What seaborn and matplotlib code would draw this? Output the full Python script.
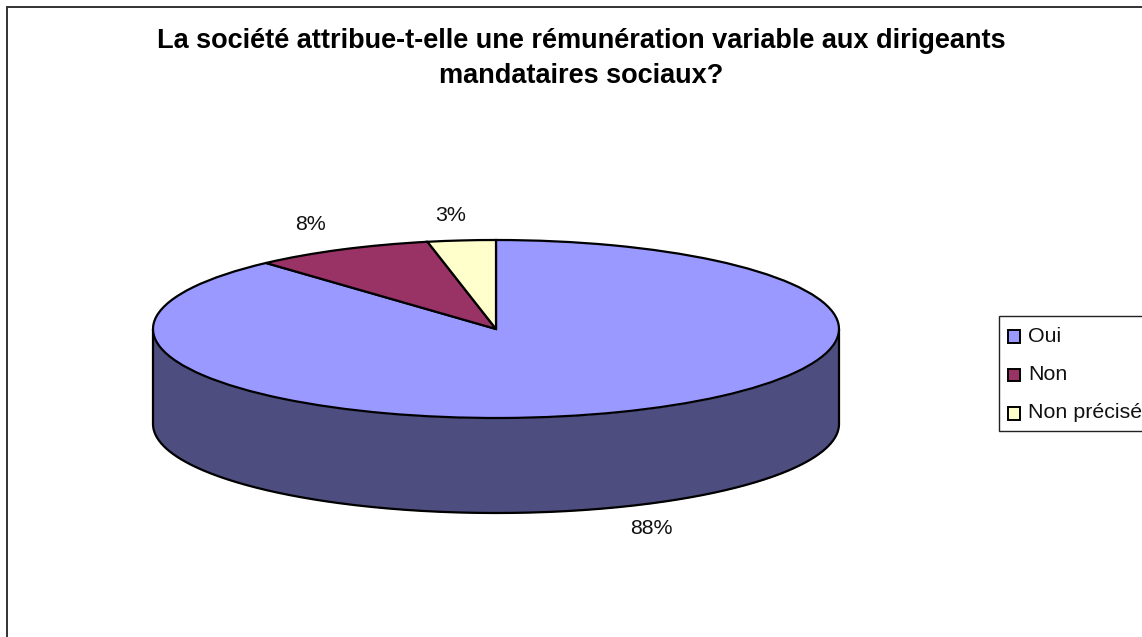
import numpy as np
import seaborn as sns
import matplotlib.pyplot as plt
from matplotlib.patches import Rectangle

# data
categories = ['Oui', 'Non', 'Non précisé']
values = [88.3, 8.5, 3.2]
pct_labels = ['88%', '8%', '3%']
top_colors = ['#9999FF', '#993366', '#FFFFCC']
side_color = '#4D4D80'
title = "La société attribue-t-elle une rémunération variable aux dirigeants\nmandataires sociaux?"

W, H = 1142, 637

sns.set_theme(style="white")
plt.rcParams['font.family'] = ['Liberation Sans', 'DejaVu Sans']

fig = plt.figure(figsize=(W / 100, H / 100), dpi=100)

# pie lives in its own axes, squashed so the circle becomes the ellipse
rx, ry = 343, 89
depth = 95
cx, cy = 496, 329
ax = fig.add_axes([(cx - rx) / W, 1 - (cy + ry + depth) / H, 2 * rx / W, (2 * ry + depth) / H])
depth_u = depth / ry

# side wall first
theta = np.linspace(np.pi, 2 * np.pi, 300)
x = np.cos(theta)
y = np.sin(theta)
ax.fill_between(x, y - depth_u, y, color=side_color, lw=0, zorder=1)
ax.plot(x, y - depth_u, color='black', lw=1.6, zorder=2)
ax.plot([-1, -1], [0, -depth_u], color='black', lw=1.6, zorder=2)
ax.plot([1, 1], [0, -depth_u], color='black', lw=1.6, zorder=2)

wedges, _ = ax.pie(values, colors=top_colors, startangle=90, counterclock=False, radius=1,
                   wedgeprops=dict(edgecolor='black', linewidth=1.6, zorder=3))
ax.set_aspect('auto')
ax.set_xlim(-1, 1)
ax.set_ylim(-1 - depth_u, 1)
ax.axis('off')
for artist in ax.get_children():
    artist.set_clip_on(False)

# percent labels, placed outside each slice
ax.text(0.452, -2.236, pct_labels[0], ha='center', va='center', fontsize=15.4, color='#111111')
ax.text(-0.542, 1.169, pct_labels[1], ha='center', va='center', fontsize=15.4, color='#111111')
ax.text(-0.131, 1.27, pct_labels[2], ha='center', va='center', fontsize=15.4, color='#111111')

# chart frame runs off the right and bottom of the image
fig.add_artist(Rectangle((7 / W, -0.02), 1.02, 1 - 6.5 / H + 0.02, transform=fig.transFigure,
                         fill=False, edgecolor='#333333', lw=1.4))

fig.text(581.5 / W, 1 - 58.5 / H, title, ha='center', va='center', fontsize=19.5, fontweight='bold',
         color='black', linespacing=1.46)

# legend box, also cut off at the right edge
fig.add_artist(Rectangle((999 / W, 1 - 431 / H), 160 / W, 115 / H, transform=fig.transFigure,
                         facecolor='white', edgecolor='#222222', lw=1))
for i, name in enumerate(categories):
    yy = 336 + i * 38.5
    fig.add_artist(Rectangle((1007.5 / W, 1 - (yy + 6.5) / H), 12.5 / W, 12.5 / H, transform=fig.transFigure,
                             facecolor=top_colors[i], edgecolor='black', lw=1.4))
    fig.text(1028 / W, 1 - yy / H, name, ha='left', va='center', fontsize=15.4, color='#111111')

fig.savefig('out.png', dpi=100, facecolor='white')
plt.close(fig)
